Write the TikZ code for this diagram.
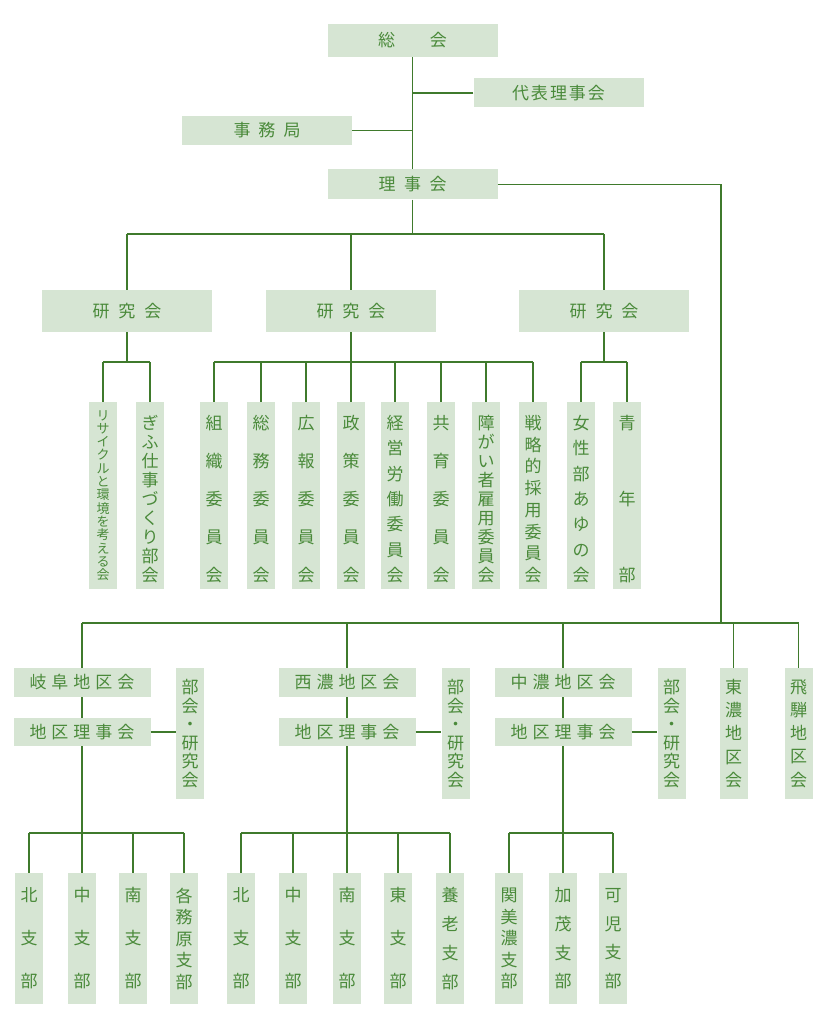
\documentclass[tikz,border=0pt]{standalone}
\usepackage{fontspec}
\newfontfamily\cjk{Noto Sans CJK JP}
\definecolor{boxfill}{HTML}{D6E5D3}
\definecolor{linegreen}{HTML}{3F7A2C}
\definecolor{txtgreen}{HTML}{4A8A3A}
\newcommand\topst{\rule{0pt}{25pt}}
\newcommand\botst{\rule[-5pt]{0pt}{5pt}}
\tikzset{
  hbox/.style={fill=boxfill, inner sep=0pt, text=txtgreen, font=\cjk\fontsize{17}{17}\selectfont, minimum width=170pt, minimum height=30pt},
  pitch/.style={font=\cjk\fontsize{17}{#1}\selectfont},
  spitch/.style={font=\cjk\fontsize{13}{#1}\selectfont},
  vbox/.style={fill=boxfill, inner sep=0pt, text=txtgreen, minimum width=28pt, minimum height=187pt, align=center},
  kid/.style={vbox, minimum height=131pt},
  rbox/.style={hbox, minimum width=137pt, minimum height=29pt},
  conn/.style={draw=linegreen, line width=1.4pt},
}
\begin{document}
\begin{tikzpicture}[x=1pt,y=-1pt]
\useasboundingbox (0,0) rectangle (826,1024);
% ---- top
\node[hbox, minimum height=33pt] (soukai) at (412.5,40.5) {総\kern35pt会};
\node[hbox, minimum height=29pt] (daihyo) at (558.5,93) {代\kern2pt表\kern2pt理\kern2pt事\kern2pt会};
\node[hbox, minimum height=29pt] (jimu) at (267,130.5) {事\kern8pt務\kern8pt局};
\node[hbox] (riji) at (412.5,184.5) {理\kern8.5pt事\kern8.5pt会};
\node[hbox, minimum height=42pt] (k1) at (127,311) {研\kern9pt究\kern9pt会};
\node[hbox, minimum height=42pt] (k2) at (351,311) {研\kern9pt究\kern9pt会};
\node[hbox, minimum height=42pt] (k3) at (604,311) {研\kern9pt究\kern9pt会};
\coordinate (rbus) at (721,623);
\coordinate (kbus) at (412.5,234);
\coordinate (lev1) at (0,362);
\coordinate (lev3) at (0,833);
\draw[conn] (soukai) -- (riji);
\draw[conn] (daihyo.west) -- (daihyo.west -| soukai.south);
\draw[conn] (jimu.east) -- (jimu.east -| soukai.south);
\draw[conn] (riji.east) -| (rbus);
\draw[conn] (riji.south) -- (kbus);
\draw[conn] (k1.north |- kbus) -- (k3.north |- kbus);
\foreach \n in {k1,k2,k3} \draw[conn] (\n.north) -- (\n.north |- kbus);
% ---- committees
\node[vbox, spitch=13.3] (c1) at (103,495.5) {リ\\サ\\イ\\ク\\ル\\と\\環\\境\\を\\考\\え\\る\\会};
\node[vbox, pitch=19] (c2) at (150,495.5) {\topst ぎ\\ふ\\仕\\事\\づ\\く\\り\\部\\会\botst};
\node[vbox, pitch=38] (m1) at (214,495.5) {\topst 組\\織\\委\\員\\会\botst};
\node[vbox, pitch=38] (m2) at (261,495.5) {\topst 総\\務\\委\\員\\会\botst};
\node[vbox, pitch=38] (m3) at (306,495.5) {\topst 広\\報\\委\\員\\会\botst};
\node[vbox, pitch=38] (m4) at (351,495.5) {\topst 政\\策\\委\\員\\会\botst};
\node[vbox, pitch=25.33] (m5) at (395,495.5) {\topst 経\\営\\労\\働\\委\\員\\会\botst};
\node[vbox, pitch=38] (m6) at (441,495.5) {\topst 共\\育\\委\\員\\会\botst};
\node[vbox, pitch=19] (m7) at (486,495.5) {\topst 障\\が\\い\\者\\雇\\用\\委\\員\\会\botst};
\node[vbox, pitch=21.7] (m8) at (533,495.5) {\topst 戦\\略\\的\\採\\用\\委\\員\\会\botst};
\node[vbox, pitch=25.33] (w1) at (581,495.5) {\topst 女\\性\\部\\あ\\ゆ\\の\\会\botst};
\node[vbox, pitch=76] (w2) at (627,495.5) {\topst 青\\年\\部\botst};
\foreach \p in {k1,k2,k3} \draw[conn] (\p.south) -- (\p.south |- lev1);
\draw[conn] (c1.north |- lev1) -- (c2.north |- lev1);
\draw[conn] (m1.north |- lev1) -- (m8.north |- lev1);
\draw[conn] (w1.north |- lev1) -- (w2.north |- lev1);
\foreach \n in {c1,c2,m1,m2,m3,m4,m5,m6,m7,m8,w1,w2} \draw[conn] (\n.north) -- (\n.north |- lev1);
% ---- regions
\node[rbox] (gifu) at (82,682.5) {岐\kern5pt阜\kern5pt地\kern5pt区\kern5pt会};
\node[rbox, minimum height=28pt] (gifuR) at (82,732) {地\kern5pt区\kern5pt理\kern5pt事\kern5pt会};
\node[rbox] (seino) at (347,682.5) {西\kern5pt濃\kern5pt地\kern5pt区\kern5pt会};
\node[rbox, minimum height=28pt] (seinoR) at (347,732) {地\kern5pt区\kern5pt理\kern5pt事\kern5pt会};
\node[rbox] (chuno) at (563,682.5) {中\kern5pt濃\kern5pt地\kern5pt区\kern5pt会};
\node[rbox, minimum height=28pt] (chunoR) at (563,732) {地\kern5pt区\kern5pt理\kern5pt事\kern5pt会};
\node[kid, pitch=18.6] (gifuB) at (190,733.5) {部\\会\\・\\研\\究\\会};
\node[kid, pitch=18.6] (seinoB) at (455.5,733.5) {部\\会\\・\\研\\究\\会};
\node[kid, pitch=18.6] (chunoB) at (671.5,733.5) {部\\会\\・\\研\\究\\会};
\node[kid, pitch=23.25] (tono) at (733.5,733.5) {東\\濃\\地\\区\\会};
\node[kid, pitch=23.25] (hida) at (798.5,733.5) {飛\\騨\\地\\区\\会};
\draw[conn] (gifu.north |- rbus) -- (hida.north |- rbus);
\foreach \n in {gifu,seino,chuno,tono,hida} \draw[conn] (\n.north) -- (\n.north |- rbus);
\foreach \n in {gifu,seino,chuno} {
  \draw[conn] (\n) -- (\n R);
  \draw[conn] (\n R.east) -- (\n R.east -| \n B.west);
  \draw[conn] (\n R.south) -- (\n R.south |- lev3);
}
% ---- branches
\node[kid, pitch=43] (g1) at (29,938.5) {北\\支\\部};
\node[kid, pitch=43] (g2) at (82,938.5) {中\\支\\部};
\node[kid, pitch=43] (g3) at (133,938.5) {南\\支\\部};
\node[kid, pitch=21.5] (g4) at (184,938.5) {各\\務\\原\\支\\部};
\node[kid, pitch=43] (s1) at (241,938.5) {北\\支\\部};
\node[kid, pitch=43] (s2) at (293,938.5) {中\\支\\部};
\node[kid, pitch=43] (s3) at (347,938.5) {南\\支\\部};
\node[kid, pitch=43] (s4) at (398,938.5) {東\\支\\部};
\node[kid, pitch=28.7] (s5) at (450,938.5) {養\\老\\支\\部};
\node[kid, pitch=21.5] (n1) at (509,938.5) {関\\美\\濃\\支\\部};
\node[kid, pitch=28.7] (n2) at (563,938.5) {加\\茂\\支\\部};
\node[kid, pitch=28.7] (n3) at (613,938.5) {可\\児\\支\\部};
\draw[conn] (g1.north |- lev3) -- (g4.north |- lev3);
\draw[conn] (s1.north |- lev3) -- (s5.north |- lev3);
\draw[conn] (n1.north |- lev3) -- (n3.north |- lev3);
\foreach \n in {g1,g2,g3,g4,s1,s2,s3,s4,s5,n1,n2,n3} \draw[conn] (\n.north) -- (\n.north |- lev3);
\end{tikzpicture}
\end{document}
